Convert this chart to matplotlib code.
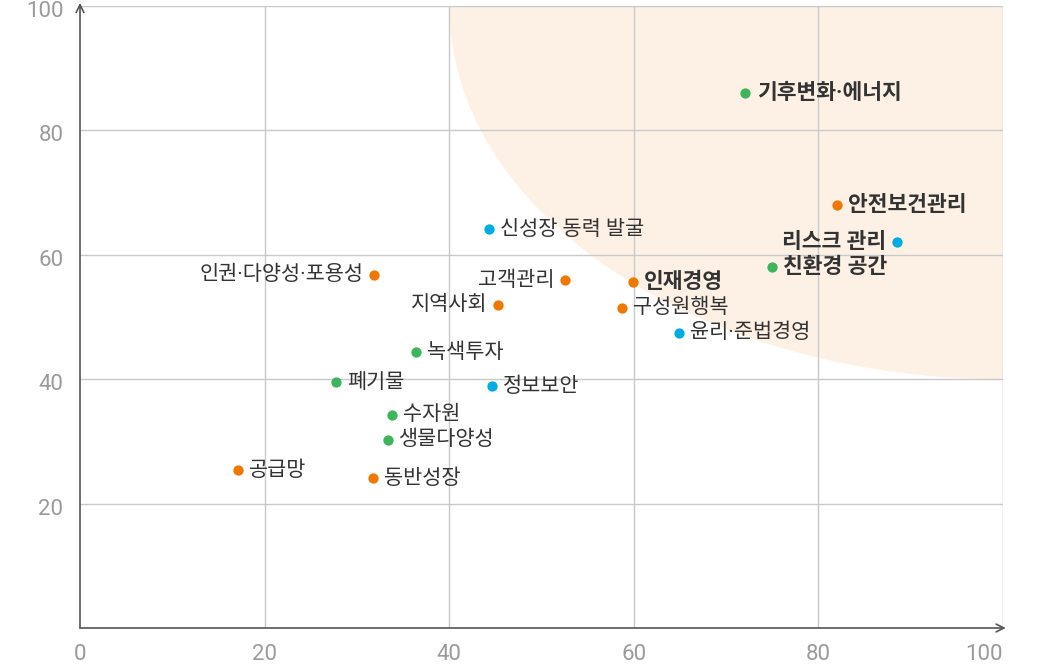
import matplotlib.pyplot as plt
from matplotlib.patches import Ellipse

plt.rcParams['font.family'] = ['Roboto', 'Noto Sans CJK KR', 'DejaVu Sans']

# 이슈별 좌표 (x: 비즈니스 영향, y: 이해관계자 관심)
names = ['기후변화·에너지', '안전보건관리', '리스크 관리', '친환경 공간', '신성장 동력 발굴',
         '고객관리', '인재경영', '지역사회', '구성원행복', '윤리·준법경영',
         '인권·다양성·포용성', '녹색투자', '폐기물', '정보보안', '수자원',
         '생물다양성', '공급망', '동반성장']
xs = [72.1, 82.0, 88.5, 75.0, 44.3,
      52.6, 59.9, 45.3, 58.7, 64.9,
      31.9, 36.4, 27.7, 44.6, 33.8,
      33.4, 17.1, 31.7]
ys = [86.0, 68.0, 62.1, 58.1, 64.1,
      55.9, 55.7, 52.0, 51.5, 47.5,
      56.8, 44.4, 39.5, 38.9, 34.3,
      30.3, 25.4, 24.1]
groups = ['env', 'soc', 'gov', 'env', 'gov',
          'soc', 'soc', 'soc', 'soc', 'gov',
          'soc', 'env', 'env', 'gov', 'env',
          'env', 'soc', 'soc']
bold = ['기후변화·에너지', '안전보건관리', '리스크 관리', '친환경 공간', '인재경영']
left_side = ['리스크 관리', '고객관리', '지역사회', '인권·다양성·포용성']

colors = {'env': '#3cb55c', 'soc': '#f07800', 'gov': '#00ade2'}
xticks = [0, 20, 40, 60, 80, 100]
yticks = [20, 40, 60, 80, 100]

fig = plt.figure(figsize=(10.45, 6.66), dpi=100)
ax = fig.add_axes([80 / 1045, 1 - 628 / 666, 923 / 1045, 622 / 666])
ax.set_xlim(0, 100)
ax.set_ylim(0, 100)

# 중대 이슈 영역
ax.add_patch(Ellipse((100, 100), 120, 120, facecolor='#fdf1e6', edgecolor='none', zorder=0))

for t in xticks[1:]:
    ax.axvline(t, color='#c9c9c9', lw=1, zorder=1)
    ax.axhline(t, color='#c9c9c9', lw=1, zorder=1)

for s in ax.spines.values():
    s.set_visible(False)
ax.set_xticks([])
ax.set_yticks([])

# 축 화살표
ax.annotate('', xy=(0, 1.005), xytext=(0, 0), xycoords='axes fraction',
            arrowprops=dict(arrowstyle='->', color='#555555', lw=1.2, mutation_scale=14,
                            shrinkA=0, shrinkB=0), annotation_clip=False)
ax.annotate('', xy=(1.003, 0), xytext=(0, 0), xycoords='axes fraction',
            arrowprops=dict(arrowstyle='->', color='#555555', lw=1.2, mutation_scale=14,
                            shrinkA=0, shrinkB=0), annotation_clip=False)

tick_font = dict(fontweight='normal', fontsize=16, color='#9a9a9a')
for t in yticks:
    ax.annotate(str(t), (0, t), xytext=(-12, -4), textcoords='offset points',
                ha='right', va='center', annotation_clip=False, **tick_font)
for t in xticks:
    ax.annotate(str(t), (t, 0), xytext=(0, -19), textcoords='offset points',
                ha='right' if t == 100 else 'center', va='center',
                annotation_clip=False, **tick_font)

for n, x, y, g in zip(names, xs, ys, groups):
    ax.scatter(x, y, s=55, color=colors[g], zorder=3, linewidths=0)
    w = 'bold' if n in bold else 'normal'
    fs = 15.5 if n in bold else 15
    if n in left_side:
        ax.annotate(n, (x, y), xytext=(-8, 0), textcoords='offset points', ha='right',
                    va='center', fontsize=fs, fontweight=w, color='#333333')
    else:
        ax.annotate(n, (x, y), xytext=(8, 0), textcoords='offset points', ha='left',
                    va='center', fontsize=fs, fontweight=w, color='#333333')

plt.savefig('out.png', dpi=100)
